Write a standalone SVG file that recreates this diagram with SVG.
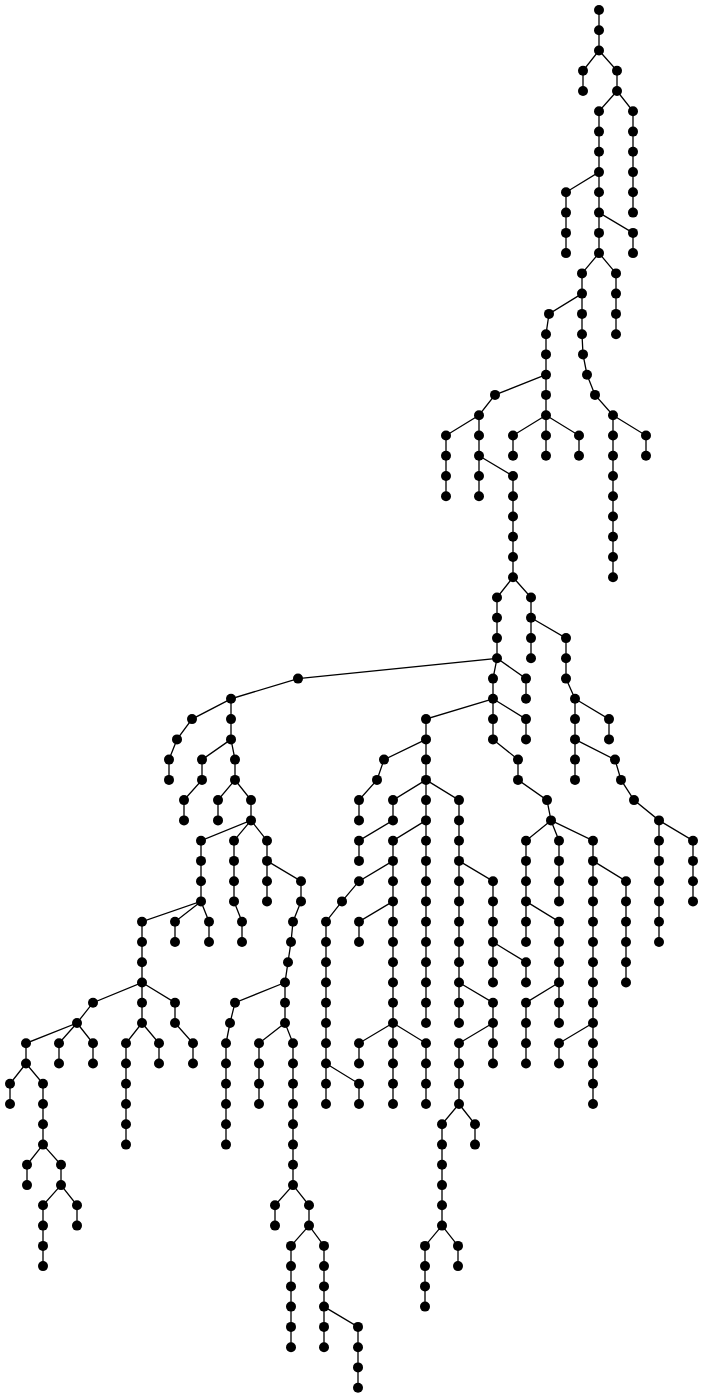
<svg xmlns="http://www.w3.org/2000/svg" width="703" height="1398" viewBox="0 0 703 1398">
<style>
.bg{fill:#fff}
.edges path{fill:none;stroke:#000;stroke-width:1.3}
.nodes circle{fill:#000}
</style>
<rect class="bg" x="0" y="0" width="703" height="1398"/>
<g id="connectors" class="edges">
<path d="M599,10 V50.5 L583,70.8 V91"/>
<path d="M599,50.5 L617,70.8 V91 L633,111.3 V212.6"/>
<path d="M617,91 L599,111.3 V172.1 L566,192.3 V253.1"/>
<path d="M599,172.1 V253.1 L582,273.4 V334.2 L583,354.4 L587,374.7 L595,394.9 L613,415.2 V577.3"/>
<path d="M599,212.6 L633,232.9 V253.1"/>
<path d="M599,253.1 L616,273.4 V334.2"/>
<path d="M582,293.6 L549,313.9 L546,334.2 V455.7"/>
<path d="M613,415.2 L646,435.5 V455.7"/>
<path d="M546,374.7 L495,394.9 L479,415.2 L446,435.5 V496.2"/>
<path d="M546,415.2 L513,435.5 V455.7"/>
<path d="M546,415.2 L579,435.5 V455.7"/>
<path d="M479,415.2 V496.2"/>
<path d="M479,455.7 L513,476 V577.3 L497,597.5 V658.3 L298,678.6 L231,698.8 V739.4 L235,759.6 V779.9 L251,800.1 V820.4 L201,840.7 V901.4 L142,921.7 V982.5 L93,1002.7 L77,1023 L26,1043.3 V1063.5 L43,1083.8 V1144.6 L61,1164.8 V1185.1 L43,1205.3 V1266.1"/>
<path d="M513,577.3 L531,597.5 V658.3"/>
<path d="M531,617.8 L566,638.1 V678.6 L575,698.8 V779.9"/>
<path d="M575,698.8 L609,719.1 V739.4"/>
<path d="M575,739.4 L615,759.6 L621,779.9 L634,800.1 L659,820.4 V942"/>
<path d="M659,820.4 L693,840.7 V901.4"/>
<path d="M497,658.3 L493,678.6 V739.4 L518,759.6 V779.9 L547,800.1 L551,820.4 L526,840.7 V942"/>
<path d="M497,658.3 L526,678.6 V698.8"/>
<path d="M493,698.8 L526,719.1 V739.4"/>
<path d="M493,698.8 L426,719.1 V1023"/>
<path d="M551,820.4 L559,840.7 V901.4"/>
<path d="M551,820.4 L593,840.7 V1104"/>
<path d="M593,860.9 L626,881.2 V982.5"/>
<path d="M593,1023 L559,1043.3 V1063.5"/>
<path d="M526,901.4 L559,921.7 V1023"/>
<path d="M559,982.5 L526,1002.7 V1063.5"/>
<path d="M426,739.4 L384,759.6 L377,779.9 L359,800.1 V820.4"/>
<path d="M426,779.9 L393,800.1 V820.4 L359,840.7 V860.9"/>
<path d="M426,779.9 L459,800.1 V1023"/>
<path d="M426,820.4 L393,840.7 V1104"/>
<path d="M393,860.9 L359,881.2 L342,901.4 L326,921.7 V1104"/>
<path d="M326,1063.5 L359,1083.8 V1104"/>
<path d="M393,901.4 L359,921.7 V942"/>
<path d="M393,1023 L359,1043.3 V1063.5"/>
<path d="M393,1023 L426,1043.3 V1104"/>
<path d="M459,860.9 L493,881.2 V982.5"/>
<path d="M493,942 L526,962.2 V982.5"/>
<path d="M459,982.5 L493,1002.7 V1063.5"/>
<path d="M493,1023 L459,1043.3 V1104 L442,1124.3 V1225.6 L425,1245.9 V1306.6"/>
<path d="M459,1104 L475,1124.3 V1144.6"/>
<path d="M442,1225.6 L458,1245.9 V1266.1"/>
<path d="M231,698.8 L192,719.1 L177,739.4 L169,759.6 V779.9"/>
<path d="M231,739.4 L202,759.6 V779.9 L184,800.1 V820.4"/>
<path d="M235,779.9 L218,800.1 V820.4"/>
<path d="M251,820.4 L234,840.7 V901.4 L242,921.7 V942"/>
<path d="M251,820.4 L267,840.7 V901.4"/>
<path d="M267,860.9 L301,881.2 V901.4 L293,921.7 L291,942 L288,962.2 L285,982.5 V1023 L293,1043.3 V1185.1 L309,1205.3 V1225.6 L324,1245.9 V1347.2"/>
<path d="M285,982.5 L235,1002.7 L230,1023 L226,1043.3 V1144.6"/>
<path d="M285,1023 L259,1043.3 V1104"/>
<path d="M293,1185.1 L275,1205.3 V1225.6"/>
<path d="M309,1225.6 L291,1245.9 V1347.2"/>
<path d="M324,1306.6 L358,1326.9 V1387.7"/>
<path d="M201,901.4 L175,921.7 V942"/>
<path d="M201,901.4 L209,921.7 V942"/>
<path d="M142,982.5 V1023 L126,1043.3 V1144.6"/>
<path d="M142,982.5 L175,1002.7 V1023 L193,1043.3 V1063.5"/>
<path d="M142,1023 L159,1043.3 V1063.5"/>
<path d="M77,1023 L59,1043.3 V1063.5"/>
<path d="M77,1023 L93,1043.3 V1063.5"/>
<path d="M26,1063.5 L10,1083.8 V1104"/>
<path d="M43,1144.6 L27,1164.8 V1185.1"/>
<path d="M61,1185.1 L77,1205.3 V1225.6"/>
</g>
<g class="nodes">
<g id="n599_0"><circle cx="599" cy="10" r="5"/></g>
<g id="n599_1"><circle cx="599" cy="30.3" r="5"/></g>
<g id="n599_2"><circle cx="599" cy="50.5" r="5"/></g>
<g id="n583_3"><circle cx="583" cy="70.8" r="5"/></g>
<g id="n583_4"><circle cx="583" cy="91" r="5"/></g>
<g id="n617_3"><circle cx="617" cy="70.8" r="5"/></g>
<g id="n617_4"><circle cx="617" cy="91" r="5"/></g>
<g id="n599_5"><circle cx="599" cy="111.3" r="5"/></g>
<g id="n599_6"><circle cx="599" cy="131.6" r="5"/></g>
<g id="n599_7"><circle cx="599" cy="151.8" r="5"/></g>
<g id="n599_8"><circle cx="599" cy="172.1" r="5"/></g>
<g id="n599_9"><circle cx="599" cy="192.3" r="5"/></g>
<g id="n599_10"><circle cx="599" cy="212.6" r="5"/></g>
<g id="n599_11"><circle cx="599" cy="232.9" r="5"/></g>
<g id="n599_12"><circle cx="599" cy="253.1" r="5"/></g>
<g id="n633_5"><circle cx="633" cy="111.3" r="5"/></g>
<g id="n633_6"><circle cx="633" cy="131.6" r="5"/></g>
<g id="n633_7"><circle cx="633" cy="151.8" r="5"/></g>
<g id="n633_8"><circle cx="633" cy="172.1" r="5"/></g>
<g id="n633_9"><circle cx="633" cy="192.3" r="5"/></g>
<g id="n633_10"><circle cx="633" cy="212.6" r="5"/></g>
<g id="n633_11"><circle cx="633" cy="232.9" r="5"/></g>
<g id="n633_12"><circle cx="633" cy="253.1" r="5"/></g>
<g id="n566_9"><circle cx="566" cy="192.3" r="5"/></g>
<g id="n566_10"><circle cx="566" cy="212.6" r="5"/></g>
<g id="n566_11"><circle cx="566" cy="232.9" r="5"/></g>
<g id="n566_12"><circle cx="566" cy="253.1" r="5"/></g>
<g id="n582_13"><circle cx="582" cy="273.4" r="5"/></g>
<g id="n582_14"><circle cx="582" cy="293.6" r="5"/></g>
<g id="n582_15"><circle cx="582" cy="313.9" r="5"/></g>
<g id="n582_16"><circle cx="582" cy="334.2" r="5"/></g>
<g id="n583_17"><circle cx="583" cy="354.4" r="5"/></g>
<g id="n587_18"><circle cx="587" cy="374.7" r="5"/></g>
<g id="n595_19"><circle cx="595" cy="394.9" r="5"/></g>
<g id="n613_20"><circle cx="613" cy="415.2" r="5"/></g>
<g id="n613_21"><circle cx="613" cy="435.5" r="5"/></g>
<g id="n613_22"><circle cx="613" cy="455.7" r="5"/></g>
<g id="n613_23"><circle cx="613" cy="476" r="5"/></g>
<g id="n613_24"><circle cx="613" cy="496.2" r="5"/></g>
<g id="n613_25"><circle cx="613" cy="516.5" r="5"/></g>
<g id="n613_26"><circle cx="613" cy="536.8" r="5"/></g>
<g id="n613_27"><circle cx="613" cy="557" r="5"/></g>
<g id="n613_28"><circle cx="613" cy="577.3" r="5"/></g>
<g id="n646_21"><circle cx="646" cy="435.5" r="5"/></g>
<g id="n646_22"><circle cx="646" cy="455.7" r="5"/></g>
<g id="n616_13"><circle cx="616" cy="273.4" r="5"/></g>
<g id="n616_14"><circle cx="616" cy="293.6" r="5"/></g>
<g id="n616_15"><circle cx="616" cy="313.9" r="5"/></g>
<g id="n616_16"><circle cx="616" cy="334.2" r="5"/></g>
<g id="n549_15"><circle cx="549" cy="313.9" r="5"/></g>
<g id="n546_16"><circle cx="546" cy="334.2" r="5"/></g>
<g id="n546_17"><circle cx="546" cy="354.4" r="5"/></g>
<g id="n546_18"><circle cx="546" cy="374.7" r="5"/></g>
<g id="n546_19"><circle cx="546" cy="394.9" r="5"/></g>
<g id="n546_20"><circle cx="546" cy="415.2" r="5"/></g>
<g id="n546_21"><circle cx="546" cy="435.5" r="5"/></g>
<g id="n546_22"><circle cx="546" cy="455.7" r="5"/></g>
<g id="n495_19"><circle cx="495" cy="394.9" r="5"/></g>
<g id="n479_20"><circle cx="479" cy="415.2" r="5"/></g>
<g id="n479_21"><circle cx="479" cy="435.5" r="5"/></g>
<g id="n479_22"><circle cx="479" cy="455.7" r="5"/></g>
<g id="n479_23"><circle cx="479" cy="476" r="5"/></g>
<g id="n479_24"><circle cx="479" cy="496.2" r="5"/></g>
<g id="n446_21"><circle cx="446" cy="435.5" r="5"/></g>
<g id="n446_22"><circle cx="446" cy="455.7" r="5"/></g>
<g id="n446_23"><circle cx="446" cy="476" r="5"/></g>
<g id="n446_24"><circle cx="446" cy="496.2" r="5"/></g>
<g id="n513_21"><circle cx="513" cy="435.5" r="5"/></g>
<g id="n513_22"><circle cx="513" cy="455.7" r="5"/></g>
<g id="n579_21"><circle cx="579" cy="435.5" r="5"/></g>
<g id="n579_22"><circle cx="579" cy="455.7" r="5"/></g>
<g id="n513_23"><circle cx="513" cy="476" r="5"/></g>
<g id="n513_24"><circle cx="513" cy="496.2" r="5"/></g>
<g id="n513_25"><circle cx="513" cy="516.5" r="5"/></g>
<g id="n513_26"><circle cx="513" cy="536.8" r="5"/></g>
<g id="n513_27"><circle cx="513" cy="557" r="5"/></g>
<g id="n513_28"><circle cx="513" cy="577.3" r="5"/></g>
<g id="n497_29"><circle cx="497" cy="597.5" r="5"/></g>
<g id="n497_30"><circle cx="497" cy="617.8" r="5"/></g>
<g id="n497_31"><circle cx="497" cy="638.1" r="5"/></g>
<g id="n497_32"><circle cx="497" cy="658.3" r="5"/></g>
<g id="n531_29"><circle cx="531" cy="597.5" r="5"/></g>
<g id="n531_30"><circle cx="531" cy="617.8" r="5"/></g>
<g id="n531_31"><circle cx="531" cy="638.1" r="5"/></g>
<g id="n531_32"><circle cx="531" cy="658.3" r="5"/></g>
<g id="n566_31"><circle cx="566" cy="638.1" r="5"/></g>
<g id="n566_32"><circle cx="566" cy="658.3" r="5"/></g>
<g id="n566_33"><circle cx="566" cy="678.6" r="5"/></g>
<g id="n575_34"><circle cx="575" cy="698.8" r="5"/></g>
<g id="n575_35"><circle cx="575" cy="719.1" r="5"/></g>
<g id="n575_36"><circle cx="575" cy="739.4" r="5"/></g>
<g id="n575_37"><circle cx="575" cy="759.6" r="5"/></g>
<g id="n575_38"><circle cx="575" cy="779.9" r="5"/></g>
<g id="n609_35"><circle cx="609" cy="719.1" r="5"/></g>
<g id="n609_36"><circle cx="609" cy="739.4" r="5"/></g>
<g id="n615_37"><circle cx="615" cy="759.6" r="5"/></g>
<g id="n621_38"><circle cx="621" cy="779.9" r="5"/></g>
<g id="n634_39"><circle cx="634" cy="800.1" r="5"/></g>
<g id="n659_40"><circle cx="659" cy="820.4" r="5"/></g>
<g id="n659_41"><circle cx="659" cy="840.7" r="5"/></g>
<g id="n659_42"><circle cx="659" cy="860.9" r="5"/></g>
<g id="n659_43"><circle cx="659" cy="881.2" r="5"/></g>
<g id="n659_44"><circle cx="659" cy="901.4" r="5"/></g>
<g id="n659_45"><circle cx="659" cy="921.7" r="5"/></g>
<g id="n659_46"><circle cx="659" cy="942" r="5"/></g>
<g id="n693_41"><circle cx="693" cy="840.7" r="5"/></g>
<g id="n693_42"><circle cx="693" cy="860.9" r="5"/></g>
<g id="n693_43"><circle cx="693" cy="881.2" r="5"/></g>
<g id="n693_44"><circle cx="693" cy="901.4" r="5"/></g>
<g id="n493_33"><circle cx="493" cy="678.6" r="5"/></g>
<g id="n493_34"><circle cx="493" cy="698.8" r="5"/></g>
<g id="n493_35"><circle cx="493" cy="719.1" r="5"/></g>
<g id="n493_36"><circle cx="493" cy="739.4" r="5"/></g>
<g id="n526_33"><circle cx="526" cy="678.6" r="5"/></g>
<g id="n526_34"><circle cx="526" cy="698.8" r="5"/></g>
<g id="n526_35"><circle cx="526" cy="719.1" r="5"/></g>
<g id="n526_36"><circle cx="526" cy="739.4" r="5"/></g>
<g id="n518_37"><circle cx="518" cy="759.6" r="5"/></g>
<g id="n518_38"><circle cx="518" cy="779.9" r="5"/></g>
<g id="n547_39"><circle cx="547" cy="800.1" r="5"/></g>
<g id="n551_40"><circle cx="551" cy="820.4" r="5"/></g>
<g id="n526_41"><circle cx="526" cy="840.7" r="5"/></g>
<g id="n526_42"><circle cx="526" cy="860.9" r="5"/></g>
<g id="n526_43"><circle cx="526" cy="881.2" r="5"/></g>
<g id="n526_44"><circle cx="526" cy="901.4" r="5"/></g>
<g id="n526_45"><circle cx="526" cy="921.7" r="5"/></g>
<g id="n526_46"><circle cx="526" cy="942" r="5"/></g>
<g id="n559_41"><circle cx="559" cy="840.7" r="5"/></g>
<g id="n559_42"><circle cx="559" cy="860.9" r="5"/></g>
<g id="n559_43"><circle cx="559" cy="881.2" r="5"/></g>
<g id="n559_44"><circle cx="559" cy="901.4" r="5"/></g>
<g id="n593_41"><circle cx="593" cy="840.7" r="5"/></g>
<g id="n593_42"><circle cx="593" cy="860.9" r="5"/></g>
<g id="n593_43"><circle cx="593" cy="881.2" r="5"/></g>
<g id="n593_44"><circle cx="593" cy="901.4" r="5"/></g>
<g id="n593_45"><circle cx="593" cy="921.7" r="5"/></g>
<g id="n593_46"><circle cx="593" cy="942" r="5"/></g>
<g id="n593_47"><circle cx="593" cy="962.2" r="5"/></g>
<g id="n593_48"><circle cx="593" cy="982.5" r="5"/></g>
<g id="n593_49"><circle cx="593" cy="1002.7" r="5"/></g>
<g id="n593_50"><circle cx="593" cy="1023" r="5"/></g>
<g id="n593_51"><circle cx="593" cy="1043.3" r="5"/></g>
<g id="n593_52"><circle cx="593" cy="1063.5" r="5"/></g>
<g id="n593_53"><circle cx="593" cy="1083.8" r="5"/></g>
<g id="n593_54"><circle cx="593" cy="1104" r="5"/></g>
<g id="n626_43"><circle cx="626" cy="881.2" r="5"/></g>
<g id="n626_44"><circle cx="626" cy="901.4" r="5"/></g>
<g id="n626_45"><circle cx="626" cy="921.7" r="5"/></g>
<g id="n626_46"><circle cx="626" cy="942" r="5"/></g>
<g id="n626_47"><circle cx="626" cy="962.2" r="5"/></g>
<g id="n626_48"><circle cx="626" cy="982.5" r="5"/></g>
<g id="n559_51"><circle cx="559" cy="1043.3" r="5"/></g>
<g id="n559_52"><circle cx="559" cy="1063.5" r="5"/></g>
<g id="n559_45"><circle cx="559" cy="921.7" r="5"/></g>
<g id="n559_46"><circle cx="559" cy="942" r="5"/></g>
<g id="n559_47"><circle cx="559" cy="962.2" r="5"/></g>
<g id="n559_48"><circle cx="559" cy="982.5" r="5"/></g>
<g id="n559_49"><circle cx="559" cy="1002.7" r="5"/></g>
<g id="n559_50"><circle cx="559" cy="1023" r="5"/></g>
<g id="n526_49"><circle cx="526" cy="1002.7" r="5"/></g>
<g id="n526_50"><circle cx="526" cy="1023" r="5"/></g>
<g id="n526_51"><circle cx="526" cy="1043.3" r="5"/></g>
<g id="n526_52"><circle cx="526" cy="1063.5" r="5"/></g>
<g id="n426_35"><circle cx="426" cy="719.1" r="5"/></g>
<g id="n426_36"><circle cx="426" cy="739.4" r="5"/></g>
<g id="n426_37"><circle cx="426" cy="759.6" r="5"/></g>
<g id="n426_38"><circle cx="426" cy="779.9" r="5"/></g>
<g id="n426_39"><circle cx="426" cy="800.1" r="5"/></g>
<g id="n426_40"><circle cx="426" cy="820.4" r="5"/></g>
<g id="n426_41"><circle cx="426" cy="840.7" r="5"/></g>
<g id="n426_42"><circle cx="426" cy="860.9" r="5"/></g>
<g id="n426_43"><circle cx="426" cy="881.2" r="5"/></g>
<g id="n426_44"><circle cx="426" cy="901.4" r="5"/></g>
<g id="n426_45"><circle cx="426" cy="921.7" r="5"/></g>
<g id="n426_46"><circle cx="426" cy="942" r="5"/></g>
<g id="n426_47"><circle cx="426" cy="962.2" r="5"/></g>
<g id="n426_48"><circle cx="426" cy="982.5" r="5"/></g>
<g id="n426_49"><circle cx="426" cy="1002.7" r="5"/></g>
<g id="n426_50"><circle cx="426" cy="1023" r="5"/></g>
<g id="n384_37"><circle cx="384" cy="759.6" r="5"/></g>
<g id="n377_38"><circle cx="377" cy="779.9" r="5"/></g>
<g id="n359_39"><circle cx="359" cy="800.1" r="5"/></g>
<g id="n359_40"><circle cx="359" cy="820.4" r="5"/></g>
<g id="n393_39"><circle cx="393" cy="800.1" r="5"/></g>
<g id="n393_40"><circle cx="393" cy="820.4" r="5"/></g>
<g id="n359_41"><circle cx="359" cy="840.7" r="5"/></g>
<g id="n359_42"><circle cx="359" cy="860.9" r="5"/></g>
<g id="n459_39"><circle cx="459" cy="800.1" r="5"/></g>
<g id="n459_40"><circle cx="459" cy="820.4" r="5"/></g>
<g id="n459_41"><circle cx="459" cy="840.7" r="5"/></g>
<g id="n459_42"><circle cx="459" cy="860.9" r="5"/></g>
<g id="n459_43"><circle cx="459" cy="881.2" r="5"/></g>
<g id="n459_44"><circle cx="459" cy="901.4" r="5"/></g>
<g id="n459_45"><circle cx="459" cy="921.7" r="5"/></g>
<g id="n459_46"><circle cx="459" cy="942" r="5"/></g>
<g id="n459_47"><circle cx="459" cy="962.2" r="5"/></g>
<g id="n459_48"><circle cx="459" cy="982.5" r="5"/></g>
<g id="n459_49"><circle cx="459" cy="1002.7" r="5"/></g>
<g id="n459_50"><circle cx="459" cy="1023" r="5"/></g>
<g id="n393_41"><circle cx="393" cy="840.7" r="5"/></g>
<g id="n393_42"><circle cx="393" cy="860.9" r="5"/></g>
<g id="n393_43"><circle cx="393" cy="881.2" r="5"/></g>
<g id="n393_44"><circle cx="393" cy="901.4" r="5"/></g>
<g id="n393_45"><circle cx="393" cy="921.7" r="5"/></g>
<g id="n393_46"><circle cx="393" cy="942" r="5"/></g>
<g id="n393_47"><circle cx="393" cy="962.2" r="5"/></g>
<g id="n393_48"><circle cx="393" cy="982.5" r="5"/></g>
<g id="n393_49"><circle cx="393" cy="1002.7" r="5"/></g>
<g id="n393_50"><circle cx="393" cy="1023" r="5"/></g>
<g id="n393_51"><circle cx="393" cy="1043.3" r="5"/></g>
<g id="n393_52"><circle cx="393" cy="1063.5" r="5"/></g>
<g id="n393_53"><circle cx="393" cy="1083.8" r="5"/></g>
<g id="n393_54"><circle cx="393" cy="1104" r="5"/></g>
<g id="n359_43"><circle cx="359" cy="881.2" r="5"/></g>
<g id="n342_44"><circle cx="342" cy="901.4" r="5"/></g>
<g id="n326_45"><circle cx="326" cy="921.7" r="5"/></g>
<g id="n326_46"><circle cx="326" cy="942" r="5"/></g>
<g id="n326_47"><circle cx="326" cy="962.2" r="5"/></g>
<g id="n326_48"><circle cx="326" cy="982.5" r="5"/></g>
<g id="n326_49"><circle cx="326" cy="1002.7" r="5"/></g>
<g id="n326_50"><circle cx="326" cy="1023" r="5"/></g>
<g id="n326_51"><circle cx="326" cy="1043.3" r="5"/></g>
<g id="n326_52"><circle cx="326" cy="1063.5" r="5"/></g>
<g id="n326_53"><circle cx="326" cy="1083.8" r="5"/></g>
<g id="n326_54"><circle cx="326" cy="1104" r="5"/></g>
<g id="n359_53"><circle cx="359" cy="1083.8" r="5"/></g>
<g id="n359_54"><circle cx="359" cy="1104" r="5"/></g>
<g id="n359_45"><circle cx="359" cy="921.7" r="5"/></g>
<g id="n359_46"><circle cx="359" cy="942" r="5"/></g>
<g id="n359_51"><circle cx="359" cy="1043.3" r="5"/></g>
<g id="n359_52"><circle cx="359" cy="1063.5" r="5"/></g>
<g id="n426_51"><circle cx="426" cy="1043.3" r="5"/></g>
<g id="n426_52"><circle cx="426" cy="1063.5" r="5"/></g>
<g id="n426_53"><circle cx="426" cy="1083.8" r="5"/></g>
<g id="n426_54"><circle cx="426" cy="1104" r="5"/></g>
<g id="n493_43"><circle cx="493" cy="881.2" r="5"/></g>
<g id="n493_44"><circle cx="493" cy="901.4" r="5"/></g>
<g id="n493_45"><circle cx="493" cy="921.7" r="5"/></g>
<g id="n493_46"><circle cx="493" cy="942" r="5"/></g>
<g id="n493_47"><circle cx="493" cy="962.2" r="5"/></g>
<g id="n493_48"><circle cx="493" cy="982.5" r="5"/></g>
<g id="n526_47"><circle cx="526" cy="962.2" r="5"/></g>
<g id="n526_48"><circle cx="526" cy="982.5" r="5"/></g>
<g id="n493_49"><circle cx="493" cy="1002.7" r="5"/></g>
<g id="n493_50"><circle cx="493" cy="1023" r="5"/></g>
<g id="n493_51"><circle cx="493" cy="1043.3" r="5"/></g>
<g id="n493_52"><circle cx="493" cy="1063.5" r="5"/></g>
<g id="n459_51"><circle cx="459" cy="1043.3" r="5"/></g>
<g id="n459_52"><circle cx="459" cy="1063.5" r="5"/></g>
<g id="n459_53"><circle cx="459" cy="1083.8" r="5"/></g>
<g id="n459_54"><circle cx="459" cy="1104" r="5"/></g>
<g id="n442_55"><circle cx="442" cy="1124.3" r="5"/></g>
<g id="n442_56"><circle cx="442" cy="1144.6" r="5"/></g>
<g id="n442_57"><circle cx="442" cy="1164.8" r="5"/></g>
<g id="n442_58"><circle cx="442" cy="1185.1" r="5"/></g>
<g id="n442_59"><circle cx="442" cy="1205.3" r="5"/></g>
<g id="n442_60"><circle cx="442" cy="1225.6" r="5"/></g>
<g id="n425_61"><circle cx="425" cy="1245.9" r="5"/></g>
<g id="n425_62"><circle cx="425" cy="1266.1" r="5"/></g>
<g id="n425_63"><circle cx="425" cy="1286.4" r="5"/></g>
<g id="n425_64"><circle cx="425" cy="1306.6" r="5"/></g>
<g id="n475_55"><circle cx="475" cy="1124.3" r="5"/></g>
<g id="n475_56"><circle cx="475" cy="1144.6" r="5"/></g>
<g id="n458_61"><circle cx="458" cy="1245.9" r="5"/></g>
<g id="n458_62"><circle cx="458" cy="1266.1" r="5"/></g>
<g id="n298_33"><circle cx="298" cy="678.6" r="5"/></g>
<g id="n231_34"><circle cx="231" cy="698.8" r="5"/></g>
<g id="n231_35"><circle cx="231" cy="719.1" r="5"/></g>
<g id="n231_36"><circle cx="231" cy="739.4" r="5"/></g>
<g id="n192_35"><circle cx="192" cy="719.1" r="5"/></g>
<g id="n177_36"><circle cx="177" cy="739.4" r="5"/></g>
<g id="n169_37"><circle cx="169" cy="759.6" r="5"/></g>
<g id="n169_38"><circle cx="169" cy="779.9" r="5"/></g>
<g id="n202_37"><circle cx="202" cy="759.6" r="5"/></g>
<g id="n202_38"><circle cx="202" cy="779.9" r="5"/></g>
<g id="n184_39"><circle cx="184" cy="800.1" r="5"/></g>
<g id="n184_40"><circle cx="184" cy="820.4" r="5"/></g>
<g id="n235_37"><circle cx="235" cy="759.6" r="5"/></g>
<g id="n235_38"><circle cx="235" cy="779.9" r="5"/></g>
<g id="n218_39"><circle cx="218" cy="800.1" r="5"/></g>
<g id="n218_40"><circle cx="218" cy="820.4" r="5"/></g>
<g id="n251_39"><circle cx="251" cy="800.1" r="5"/></g>
<g id="n251_40"><circle cx="251" cy="820.4" r="5"/></g>
<g id="n201_41"><circle cx="201" cy="840.7" r="5"/></g>
<g id="n201_42"><circle cx="201" cy="860.9" r="5"/></g>
<g id="n201_43"><circle cx="201" cy="881.2" r="5"/></g>
<g id="n201_44"><circle cx="201" cy="901.4" r="5"/></g>
<g id="n234_41"><circle cx="234" cy="840.7" r="5"/></g>
<g id="n234_42"><circle cx="234" cy="860.9" r="5"/></g>
<g id="n234_43"><circle cx="234" cy="881.2" r="5"/></g>
<g id="n234_44"><circle cx="234" cy="901.4" r="5"/></g>
<g id="n242_45"><circle cx="242" cy="921.7" r="5"/></g>
<g id="n242_46"><circle cx="242" cy="942" r="5"/></g>
<g id="n267_41"><circle cx="267" cy="840.7" r="5"/></g>
<g id="n267_42"><circle cx="267" cy="860.9" r="5"/></g>
<g id="n267_43"><circle cx="267" cy="881.2" r="5"/></g>
<g id="n267_44"><circle cx="267" cy="901.4" r="5"/></g>
<g id="n301_43"><circle cx="301" cy="881.2" r="5"/></g>
<g id="n301_44"><circle cx="301" cy="901.4" r="5"/></g>
<g id="n293_45"><circle cx="293" cy="921.7" r="5"/></g>
<g id="n291_46"><circle cx="291" cy="942" r="5"/></g>
<g id="n288_47"><circle cx="288" cy="962.2" r="5"/></g>
<g id="n285_48"><circle cx="285" cy="982.5" r="5"/></g>
<g id="n285_49"><circle cx="285" cy="1002.7" r="5"/></g>
<g id="n285_50"><circle cx="285" cy="1023" r="5"/></g>
<g id="n235_49"><circle cx="235" cy="1002.7" r="5"/></g>
<g id="n230_50"><circle cx="230" cy="1023" r="5"/></g>
<g id="n226_51"><circle cx="226" cy="1043.3" r="5"/></g>
<g id="n226_52"><circle cx="226" cy="1063.5" r="5"/></g>
<g id="n226_53"><circle cx="226" cy="1083.8" r="5"/></g>
<g id="n226_54"><circle cx="226" cy="1104" r="5"/></g>
<g id="n226_55"><circle cx="226" cy="1124.3" r="5"/></g>
<g id="n226_56"><circle cx="226" cy="1144.6" r="5"/></g>
<g id="n259_51"><circle cx="259" cy="1043.3" r="5"/></g>
<g id="n259_52"><circle cx="259" cy="1063.5" r="5"/></g>
<g id="n259_53"><circle cx="259" cy="1083.8" r="5"/></g>
<g id="n259_54"><circle cx="259" cy="1104" r="5"/></g>
<g id="n293_51"><circle cx="293" cy="1043.3" r="5"/></g>
<g id="n293_52"><circle cx="293" cy="1063.5" r="5"/></g>
<g id="n293_53"><circle cx="293" cy="1083.8" r="5"/></g>
<g id="n293_54"><circle cx="293" cy="1104" r="5"/></g>
<g id="n293_55"><circle cx="293" cy="1124.3" r="5"/></g>
<g id="n293_56"><circle cx="293" cy="1144.6" r="5"/></g>
<g id="n293_57"><circle cx="293" cy="1164.8" r="5"/></g>
<g id="n293_58"><circle cx="293" cy="1185.1" r="5"/></g>
<g id="n275_59"><circle cx="275" cy="1205.3" r="5"/></g>
<g id="n275_60"><circle cx="275" cy="1225.6" r="5"/></g>
<g id="n309_59"><circle cx="309" cy="1205.3" r="5"/></g>
<g id="n309_60"><circle cx="309" cy="1225.6" r="5"/></g>
<g id="n291_61"><circle cx="291" cy="1245.9" r="5"/></g>
<g id="n291_62"><circle cx="291" cy="1266.1" r="5"/></g>
<g id="n291_63"><circle cx="291" cy="1286.4" r="5"/></g>
<g id="n291_64"><circle cx="291" cy="1306.6" r="5"/></g>
<g id="n291_65"><circle cx="291" cy="1326.9" r="5"/></g>
<g id="n291_66"><circle cx="291" cy="1347.2" r="5"/></g>
<g id="n324_61"><circle cx="324" cy="1245.9" r="5"/></g>
<g id="n324_62"><circle cx="324" cy="1266.1" r="5"/></g>
<g id="n324_63"><circle cx="324" cy="1286.4" r="5"/></g>
<g id="n324_64"><circle cx="324" cy="1306.6" r="5"/></g>
<g id="n324_65"><circle cx="324" cy="1326.9" r="5"/></g>
<g id="n324_66"><circle cx="324" cy="1347.2" r="5"/></g>
<g id="n358_65"><circle cx="358" cy="1326.9" r="5"/></g>
<g id="n358_66"><circle cx="358" cy="1347.2" r="5"/></g>
<g id="n358_67"><circle cx="358" cy="1367.4" r="5"/></g>
<g id="n358_68"><circle cx="358" cy="1387.7" r="5"/></g>
<g id="n175_45"><circle cx="175" cy="921.7" r="5"/></g>
<g id="n175_46"><circle cx="175" cy="942" r="5"/></g>
<g id="n209_45"><circle cx="209" cy="921.7" r="5"/></g>
<g id="n209_46"><circle cx="209" cy="942" r="5"/></g>
<g id="n142_45"><circle cx="142" cy="921.7" r="5"/></g>
<g id="n142_46"><circle cx="142" cy="942" r="5"/></g>
<g id="n142_47"><circle cx="142" cy="962.2" r="5"/></g>
<g id="n142_48"><circle cx="142" cy="982.5" r="5"/></g>
<g id="n142_49"><circle cx="142" cy="1002.7" r="5"/></g>
<g id="n142_50"><circle cx="142" cy="1023" r="5"/></g>
<g id="n175_49"><circle cx="175" cy="1002.7" r="5"/></g>
<g id="n175_50"><circle cx="175" cy="1023" r="5"/></g>
<g id="n193_51"><circle cx="193" cy="1043.3" r="5"/></g>
<g id="n193_52"><circle cx="193" cy="1063.5" r="5"/></g>
<g id="n126_51"><circle cx="126" cy="1043.3" r="5"/></g>
<g id="n126_52"><circle cx="126" cy="1063.5" r="5"/></g>
<g id="n126_53"><circle cx="126" cy="1083.8" r="5"/></g>
<g id="n126_54"><circle cx="126" cy="1104" r="5"/></g>
<g id="n126_55"><circle cx="126" cy="1124.3" r="5"/></g>
<g id="n126_56"><circle cx="126" cy="1144.6" r="5"/></g>
<g id="n159_51"><circle cx="159" cy="1043.3" r="5"/></g>
<g id="n159_52"><circle cx="159" cy="1063.5" r="5"/></g>
<g id="n93_49"><circle cx="93" cy="1002.7" r="5"/></g>
<g id="n77_50"><circle cx="77" cy="1023" r="5"/></g>
<g id="n26_51"><circle cx="26" cy="1043.3" r="5"/></g>
<g id="n26_52"><circle cx="26" cy="1063.5" r="5"/></g>
<g id="n59_51"><circle cx="59" cy="1043.3" r="5"/></g>
<g id="n59_52"><circle cx="59" cy="1063.5" r="5"/></g>
<g id="n93_51"><circle cx="93" cy="1043.3" r="5"/></g>
<g id="n93_52"><circle cx="93" cy="1063.5" r="5"/></g>
<g id="n10_53"><circle cx="10" cy="1083.8" r="5"/></g>
<g id="n10_54"><circle cx="10" cy="1104" r="5"/></g>
<g id="n43_53"><circle cx="43" cy="1083.8" r="5"/></g>
<g id="n43_54"><circle cx="43" cy="1104" r="5"/></g>
<g id="n43_55"><circle cx="43" cy="1124.3" r="5"/></g>
<g id="n43_56"><circle cx="43" cy="1144.6" r="5"/></g>
<g id="n27_57"><circle cx="27" cy="1164.8" r="5"/></g>
<g id="n27_58"><circle cx="27" cy="1185.1" r="5"/></g>
<g id="n61_57"><circle cx="61" cy="1164.8" r="5"/></g>
<g id="n61_58"><circle cx="61" cy="1185.1" r="5"/></g>
<g id="n43_59"><circle cx="43" cy="1205.3" r="5"/></g>
<g id="n43_60"><circle cx="43" cy="1225.6" r="5"/></g>
<g id="n43_61"><circle cx="43" cy="1245.9" r="5"/></g>
<g id="n43_62"><circle cx="43" cy="1266.1" r="5"/></g>
<g id="n77_59"><circle cx="77" cy="1205.3" r="5"/></g>
<g id="n77_60"><circle cx="77" cy="1225.6" r="5"/></g>
</g>
</svg>
